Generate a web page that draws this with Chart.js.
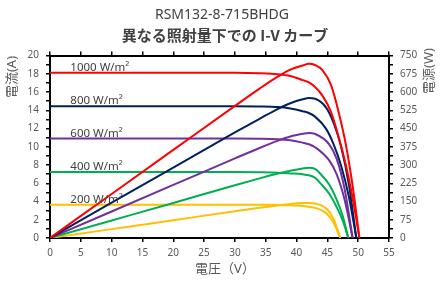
<!DOCTYPE html>
<html>
<head>
<meta charset="utf-8">
<script src="https://cdn.jsdelivr.net/npm/chart.js@4"></script>
<style>
  body { margin: 0; background: #fff; }
  #wrap { width: 440px; height: 281px; }
</style>
</head>
<body>
<div id="wrap"><canvas id="ivChart"></canvas></div>
<script>
// irradiance levels and colours
const levels = ['1000 W/m²', '800 W/m²', '600 W/m²', '400 W/m²', '200 W/m²'];
const colors = ['#FF0000', '#002060', '#7030A0', '#00B050', '#FFC000'];

// voltage (V), current (A), power (W)
const volts1000 = [0, 10, 20, 30, 34, 37, 39, 41, 42, 43, 44.2, 45.6, 46.9, 48, 49.2, 50.2];
const amps1000  = [18.1, 18.1, 18.1, 18.1, 18.06, 17.95, 17.75, 17.3, 17.05, 16.55, 15.6, 13.8, 10.9, 8.0, 4.0, 0];
const watts1000 = [0, 181, 362, 543, 614, 664, 692, 709, 716, 711, 690, 628, 510, 384, 197, 0];

const volts800 = [0, 10, 20, 30, 34, 37, 39, 41, 42, 43, 44.8, 46, 47.2, 48.5, 49.7];
const amps800  = [14.45, 14.45, 14.45, 14.45, 14.42, 14.35, 14.2, 13.9, 13.7, 13.3, 11.96, 10.3, 8.0, 4.5, 0];
const watts800 = [0, 145, 289, 434, 490, 531, 554, 570, 575, 572, 536, 474, 378, 218, 0];

const volts600 = [0, 10, 20, 30, 34, 37, 39, 41, 42, 43, 45.3, 46.5, 47.8, 49.1];
const amps600  = [10.9, 10.9, 10.9, 10.9, 10.88, 10.82, 10.7, 10.45, 10.28, 9.95, 8.5, 7.0, 4.2, 0];
const watts600 = [0, 109, 218, 327, 370, 400, 417, 428, 432, 428, 385, 326, 201, 0];

const volts400 = [0, 10, 20, 30, 34, 37, 39, 41, 42, 43, 44, 45.3, 46.5, 47.5, 48.4];
const amps400  = [7.22, 7.22, 7.22, 7.22, 7.2, 7.16, 7.08, 6.98, 6.87, 6.6, 5.9, 4.85, 3.4, 1.9, 0];
const watts400 = [0, 72, 144, 217, 245, 265, 276, 286, 289, 284, 260, 220, 158, 90, 0];

const volts200 = [0, 10, 20, 30, 34, 37, 39, 41, 42, 43, 44, 45, 46, 47.1];
const amps200  = [3.65, 3.65, 3.65, 3.65, 3.64, 3.62, 3.58, 3.5, 3.42, 3.3, 3.05, 2.6, 1.7, 0];
const watts200 = [0, 36.5, 73, 110, 124, 134, 140, 143.5, 144, 142, 134, 117, 78, 0];

const voltSets = [volts1000, volts800, volts600, volts400, volts200];
const ampSets = [amps1000, amps800, amps600, amps400, amps200];
const wattSets = [watts1000, watts800, watts600, watts400, watts200];

const xTicks = { min: 0, max: 55, step: 5 };
const ampTicks = { min: 0, max: 20, step: 2 };
const wattTicks = { min: 0, max: 750, step: 75 };

const pts = (xs, ys) => xs.map((x, i) => ({ x: x, y: ys[i] }));

const datasets = [];
levels.forEach((lvl, i) => {
    datasets.push({
        label: lvl + ' I',
        data: pts(voltSets[i], ampSets[i]),
        yAxisID: 'y',
        borderColor: colors[i],
        borderWidth: 2,
        pointRadius: 0,
        cubicInterpolationMode: 'monotone',
        fill: false
    });
    datasets.push({
        label: lvl + ' P',
        data: pts(voltSets[i], wattSets[i]),
        yAxisID: 'y1',
        borderColor: colors[i],
        borderWidth: 2,
        pointRadius: 0,
        cubicInterpolationMode: 'monotone',
        fill: false
    });
});

const jpFont = "'Noto Sans', 'Noto Sans CJK JP', sans-serif";
const cjkFont = "'Noto Sans CJK JP', 'Noto Sans', sans-serif";

// titles, axis titles and irradiance labels
const textPlugin = {
    id: 'texts',
    afterDraw(chart) {
        const ctx = chart.ctx;
        const xs = chart.scales.x;
        const ys = chart.scales.y;
        ctx.save();
        ctx.fillStyle = '#404040';
        ctx.textAlign = 'center';
        ctx.textBaseline = 'middle';
        ctx.font = '14px ' + jpFont;
        ctx.fillText('RSM132-8-715BHDG', 222, 15);
        ctx.font = 'bold 15px ' + cjkFont;
        ctx.fillText('異なる照射量下での I-V カーブ', 225, 35);

        ctx.fillStyle = '#595959';
        ctx.font = '13px ' + jpFont;
        ctx.fillText('電圧（V）', 225, 269);

        ctx.save();
        ctx.translate(12, 77);
        ctx.rotate(-Math.PI / 2);
        ctx.fillText('電流(A)', 0, 0);
        ctx.restore();

        ctx.save();
        ctx.translate(429, 71);
        ctx.rotate(-Math.PI / 2);
        ctx.fillText('電源(W)', 0, 0);
        ctx.restore();

        ctx.fillStyle = '#404040';
        ctx.textAlign = 'left';
        ctx.textBaseline = 'alphabetic';
        ctx.font = '11.5px ' + jpFont;
        levels.forEach((lvl, i) => {
            ctx.fillText(lvl, xs.getPixelForValue(3.3), ys.getPixelForValue(ampSets[i][0]) - 2);
        });
        ctx.restore();
    }
};

const tickFont = { family: "'Noto Sans', sans-serif", size: 10 };
const axisGrid = { drawOnChartArea: false, color: '#000', lineWidth: 1.5, tickLength: 4 };
const axisBorder = { color: '#000', width: 2 };

new Chart(document.getElementById('ivChart'), {
    type: 'line',
    data: { datasets: datasets },
    options: {
        responsive: true,
        maintainAspectRatio: false,
        animation: false,
        layout: { padding: 0 },
        plugins: {
            legend: { display: false },
            title: { display: false },
            tooltip: { enabled: false }
        },
        scales: {
            x: {
                type: 'linear',
                position: 'bottom',
                min: xTicks.min,
                max: xTicks.max,
                ticks: { stepSize: xTicks.step, font: tickFont, color: '#595959', padding: 5 },
                grid: axisGrid,
                border: axisBorder,
                afterFit: s => { s.height = 43; }
            },
            x2: {
                type: 'linear',
                position: 'top',
                min: xTicks.min,
                max: xTicks.max,
                ticks: { stepSize: xTicks.step, callback: () => '' },
                grid: axisGrid,
                border: axisBorder,
                afterFit: s => { s.height = 55.5; }
            },
            y: {
                position: 'left',
                min: ampTicks.min,
                max: ampTicks.max,
                ticks: {
                    stepSize: ampTicks.step / 2,
                    autoSkip: false,
                    font: tickFont,
                    color: '#595959',
                    padding: 7,
                    callback: v => (v % ampTicks.step === 0 ? v : '')
                },
                grid: axisGrid,
                border: axisBorder,
                afterFit: s => { s.width = 50; }
            },
            y1: {
                position: 'right',
                min: wattTicks.min,
                max: wattTicks.max,
                ticks: {
                    stepSize: wattTicks.step / 2,
                    autoSkip: false,
                    font: tickFont,
                    color: '#595959',
                    padding: 7,
                    callback: v => (Math.abs(v % wattTicks.step) < 1e-6 ? v : '')
                },
                grid: axisGrid,
                border: axisBorder,
                afterFit: s => { s.width = 51; }
            }
        }
    },
    plugins: [textPlugin]
});
</script>
</body>
</html>
